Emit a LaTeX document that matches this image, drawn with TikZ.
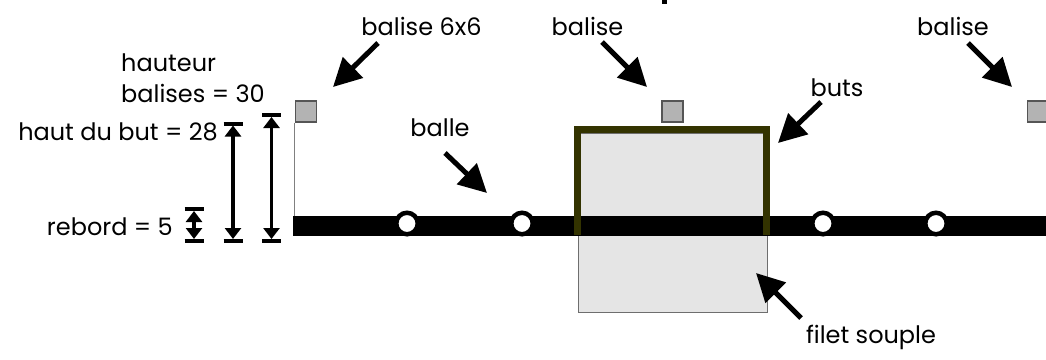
\documentclass[tikz,border=0pt]{standalone}
\usepackage{fontspec}
\setmainfont{Poppins}
\usetikzlibrary{arrows.meta}
\definecolor{balisefill}{HTML}{B3B3B3}
\definecolor{baliseedge}{HTML}{555555}
\definecolor{netfill}{HTML}{E5E5E5}
\definecolor{netedge}{HTML}{6E6E6E}
\definecolor{goalcol}{HTML}{333300}
\begin{document}
\begin{tikzpicture}[x=1pt,y=-1pt,
  lbl/.style={inner sep=0pt,font=\fontsize{24}{28}\selectfont},
  callout/.style={line width=5pt,-{Triangle[length=28pt,width=28pt]}},
  dimarrow/.style={line width=3.6pt,{Triangle[length=11pt,width=16pt]}-{Triangle[length=11pt,width=16pt]}},
  dimtick/.style={line width=4pt},
  balise/.style={draw=baliseedge,fill=balisefill,line width=1.2pt,minimum size=21pt,inner sep=0pt},
  ball/.style={circle,draw=black,fill=white,line width=4.5pt,minimum size=21.5pt,inner sep=0pt},
  barbox/.style={fill=black,inner sep=0pt,minimum width=760pt,minimum height=20pt,anchor=north west},
  netbox/.style={fill=netfill,draw=netedge,line width=1pt,inner sep=0pt,minimum width=189pt,minimum height=179pt,anchor=north west},
  goal/.style={draw=goalcol,line width=7pt,line join=miter},
  pole/.style={draw=gray,line width=1pt},
]
\useasboundingbox (0,0) rectangle (1046,359);

% net and bar
\node[netbox] (net) at (578,133) {};
\node[barbox] (bar) at (293,216) {};

% goal frame
\coordinate (gl) at (577,235);
\coordinate (gtl) at (577,129.5);
\coordinate (gtr) at (766.5,129.5);
\coordinate (gr) at (766.5,235);
\draw[goal] (gl) -- (gtl) -- (gtr) -- (gr);

% balises
\node[balise] (bal1) at (306,111.5) {};
\node[balise] (bal2) at (672.5,111.5) {};
\node[balise] (bal3) at (1038,111.5) {};
\draw[pole] (bal1.south west) -- (bal1.south west |- bar.north);

% balls
\node[ball] (b1) at (407,223.5) {};
\node[ball] (b2) at (522,223.5) {};
\node[ball] (b3) at (823,223.5) {};
\node[ball] (b4) at (936,223.5) {};

% small mark at top
\fill (662,0) rectangle (667,4);

% labels
\node[lbl,anchor=base] (t66) at (421.5,35) {balise 6x6};
\node[lbl,anchor=base] (tb2) at (587.5,35) {balise};
\node[lbl,anchor=base] (tb3) at (953,35) {balise};
\node[lbl,anchor=base] (tbuts) at (837,96) {buts};
\node[lbl,anchor=base] (tballe) at (440,136) {balle};
\node[lbl,anchor=base west] (thaut) at (121,71) {hauteur};
\node[lbl,anchor=base west] (tbal30) at (121,102) {balises = 30};
\node[lbl,anchor=base east] (tbut28) at (218,140) {haut du but = 28};
\node[lbl,anchor=base east] (treb) at (173,235) {rebord = 5};
\node[lbl,anchor=base] (tfilet) at (871,343) {filet souple};

% callout arrows
\coordinate (c1s) at (378,43);  \coordinate (c1e) at (333,87);
\coordinate (c2s) at (602,42);  \coordinate (c2e) at (647,87);
\coordinate (c3s) at (968,43);  \coordinate (c3e) at (1012,87);
\coordinate (c4s) at (821,102); \coordinate (c4e) at (778,143);
\coordinate (c5s) at (445,153); \coordinate (c5e) at (487,193);
\coordinate (c6s) at (801,318); \coordinate (c6e) at (756,273);
\draw[callout] (c1s) -- (c1e);
\draw[callout] (c2s) -- (c2e);
\draw[callout] (c3s) -- (c3e);
\draw[callout] (c4s) -- (c4e);
\draw[callout] (c5s) -- (c5e);
\draw[callout] (c6s) -- (c6e);

% dimension lines
\coordinate (r1) at (194,209);   \coordinate (r2) at (194,241);
\coordinate (h1) at (233,123.5); \coordinate (h2) at (233,241);
\coordinate (s1) at (271.5,115); \coordinate (s2) at (271.5,241);
\foreach \p in {r1,r2,h1,h2,s1,s2}
  \draw[dimtick] ([xshift=-9.5pt]\p) -- ([xshift=9.5pt]\p);
\draw[dimarrow] ([yshift=-2pt]r1) -- ([yshift=2pt]r2);
\draw[dimarrow] ([yshift=-2pt]h1) -- ([yshift=2pt]h2);
\draw[dimarrow] ([yshift=-2pt]s1) -- ([yshift=2pt]s2);
\end{tikzpicture}
\end{document}
